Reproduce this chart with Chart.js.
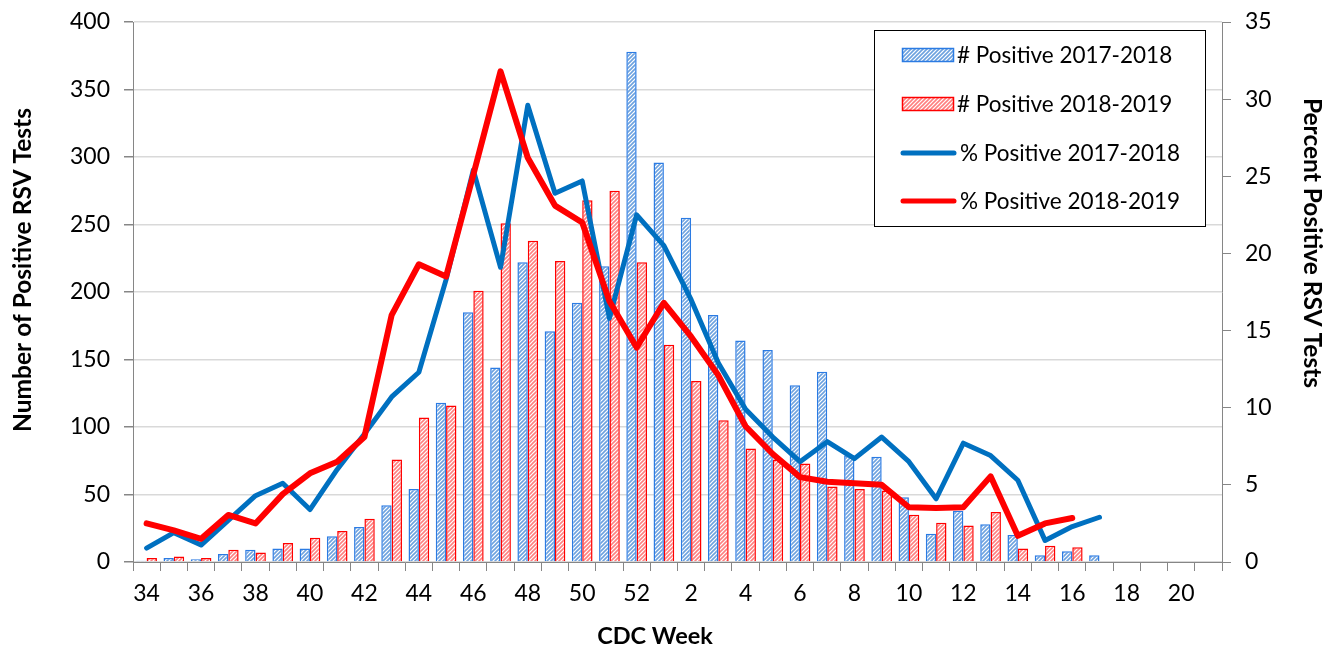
<!DOCTYPE html>
<html>
<head>
<meta charset="utf-8">
<script src="https://cdn.jsdelivr.net/npm/chart.js@4.4.1/dist/chart.umd.min.js"></script>
<style>
  html, body { margin: 0; padding: 0; background: #ffffff; }
  #wrap { width: 1338px; height: 648px; }
</style>
</head>
<body>
<div id="wrap"><canvas id="c" width="1338" height="648"></canvas></div>
<script>
// ---- data ----
const weeks = [34,35,36,37,38,39,40,41,42,43,44,45,46,47,48,49,50,51,52,
               1,2,3,4,5,6,7,8,9,10,11,12,13,14,15,16,17,18,19,20,21];
const tickLabels = ['34','','36','','38','','40','','42','','44','','46','','48','','50','','52',
                    '','2','','4','','6','','8','','10','','12','','14','','16','','18','','20',''];
const posCount1718 = [1,3,2,6,9,10,10,19,26,42,54,118,185,144,222,171,192,219,378,
                      296,255,183,164,157,131,141,79,78,48,21,38,28,20,5,8,5,null,null,null,null];
const posCount1819 = [3,4,3,9,7,14,18,23,32,76,107,116,201,251,238,223,268,275,222,
                      161,134,105,84,76,73,56,54,53,35,29,27,37,10,12,11,null,null,null,null,null];
const pctPos1718 = [0.9,1.9,1.1,2.7,4.3,5.1,3.4,6.0,8.3,10.7,12.3,18.3,25.4,19.1,29.6,23.9,24.7,15.8,22.5,
                    20.5,17.0,12.9,9.9,8.1,6.5,7.8,6.7,8.1,6.5,4.1,7.7,6.9,5.3,1.4,2.3,2.9,null,null,null,null];
const pctPos1819 = [2.5,2.05,1.5,3.05,2.5,4.4,5.75,6.5,8.1,16.0,19.3,18.5,25.1,31.8,26.2,23.1,22.0,16.9,13.9,
                    16.8,14.6,12.1,8.8,7.0,5.5,5.2,5.1,5.0,3.55,3.5,3.55,5.55,1.7,2.5,2.85,null,null,null,null,null];
const seriesNames = ['# Positive 2017-2018','# Positive 2018-2019','% Positive 2017-2018','% Positive 2018-2019'];

// ---- styles ----
const FONT = 'Lato, "Open Sans", "Liberation Sans", sans-serif';
const AXIS_GRAY = '#868686';
const canvas = document.getElementById('c');
const ctx = canvas.getContext('2d');

function hatch(bg, fg, lw) {
  const t = document.createElement('canvas');
  t.width = 4; t.height = 4;
  const x = t.getContext('2d');
  x.fillStyle = bg; x.fillRect(0, 0, 4, 4);
  x.strokeStyle = fg; x.lineWidth = lw; x.lineCap = 'square';
  x.beginPath();
  x.moveTo(0, 4); x.lineTo(4, 0);
  x.moveTo(-1, 1); x.lineTo(1, -1);
  x.moveTo(3, 5); x.lineTo(5, 3);
  x.stroke();
  return ctx.createPattern(t, 'repeat');
}
const bluePattern = hatch('#ffffff', '#6da2df', 1.6);
const redPattern = hatch('#ffffff', '#ff8080', 1.6);

const blueBorder = '#2b7be3';
const redBorder = '#ff0000';
const blueLine = '#0070c0';
const redLine = '#ff0000';

// ---- custom plugin: axis titles + legend box ----
const decor = {
  id: 'decor',
  afterDraw(chart) {
    const c = chart.ctx;
    c.save();
    c.fillStyle = '#000';
    c.textAlign = 'center';
    c.textBaseline = 'middle';
    c.font = 'bold 24.5px ' + FONT;
    // left title
    c.save(); c.translate(23, 270); c.rotate(-Math.PI / 2);
    c.fillText('Number of Positive RSV Tests', 0, 0); c.restore();
    // right title
    c.save(); c.translate(1312, 243); c.rotate(Math.PI / 2);
    c.fillText('Percent Positive RSV Tests', 0, 0); c.restore();
    // x title
    c.font = 'bold 23.5px ' + FONT;
    c.fillText('CDC Week', 655, 636);

    // legend
    const bx = 874.5, by = 30.5, bw = 331, bh = 196;
    c.fillStyle = '#ffffff';
    c.fillRect(bx, by, bw, bh);
    c.strokeStyle = '#000'; c.lineWidth = 1;
    c.strokeRect(bx, by, bw, bh);
    const rows = [55, 104, 153, 201];
    const ds = chart.data.datasets;
    c.textAlign = 'left';
    c.font = '22.5px ' + FONT;
    for (let i = 0; i < 4; i++) {
      const y = rows[i];
      if (i < 2) {
        c.fillStyle = ds[i].backgroundColor;
        c.fillRect(902, y - 7, 52, 14);
        c.strokeStyle = ds[i].borderColor; c.lineWidth = 1.5;
        c.strokeRect(902.5, y - 6.5, 51, 13);
      } else {
        c.strokeStyle = ds[i].borderColor; c.lineWidth = 5; c.lineCap = 'round';
        c.beginPath(); c.moveTo(903, y); c.lineTo(954, y); c.stroke();
      }
      c.fillStyle = '#000';
      c.fillText(seriesNames[i], i < 2 ? 957 : 960, y + 1);
    }
    c.restore();
  }
};

const tickFont = { family: FONT, size: 23 };
function noPad(s) { s.paddingTop = 0; s.paddingBottom = 0; }

new Chart(canvas, {
  type: 'bar',
  data: {
    labels: weeks,
    datasets: [
      { type: 'bar', label: seriesNames[0], data: posCount1718, yAxisID: 'y',
        backgroundColor: bluePattern, borderColor: blueBorder, borderWidth: 1.5, order: 2,
        categoryPercentage: 0.76, barPercentage: 1.0 },
      { type: 'bar', label: seriesNames[1], data: posCount1819, yAxisID: 'y',
        backgroundColor: redPattern, borderColor: redBorder, borderWidth: 1.5, order: 2,
        categoryPercentage: 0.76, barPercentage: 1.0 },
      { type: 'line', label: seriesNames[2], data: pctPos1718, yAxisID: 'y1',
        borderColor: blueLine, backgroundColor: blueLine, borderWidth: 5, pointRadius: 0,
        tension: 0, borderJoinStyle: 'round', borderCapStyle: 'round', order: 1, spanGaps: false },
      { type: 'line', label: seriesNames[3], data: pctPos1819, yAxisID: 'y1',
        borderColor: redLine, backgroundColor: redLine, borderWidth: 6, pointRadius: 0,
        tension: 0, borderJoinStyle: 'round', borderCapStyle: 'round', order: 0, spanGaps: false }
    ]
  },
  options: {
    responsive: false,
    animation: false,
    devicePixelRatio: 1,
    layout: { padding: { top: 22, left: 0, right: 0, bottom: 0 } },
    plugins: { legend: { display: false }, tooltip: { enabled: false } },
    scales: {
      x: {
        offset: true,
        grid: { display: true, drawOnChartArea: false, drawTicks: true, tickLength: 9,
                tickColor: AXIS_GRAY, offset: true },
        border: { color: AXIS_GRAY, width: 1 },
        ticks: { autoSkip: false, maxRotation: 0, minRotation: 0, padding: 9, color: '#000',
                 font: tickFont, callback: (v, i) => tickLabels[i] },
        afterFit: s => { s.height = 86; s.paddingLeft = 0; s.paddingRight = 0; }
      },
      y: {
        position: 'left', min: 0, max: 400,
        ticks: { stepSize: 50, padding: 14, color: '#000', font: tickFont },
        grid: { color: '#d9d9d9', lineWidth: 1.5, tickColor: AXIS_GRAY, tickLength: 9 },
        border: { color: AXIS_GRAY, width: 1 },
        afterFit: s => { s.width = 133; noPad(s); }
      },
      y1: {
        position: 'right', min: 0, max: 35,
        ticks: { stepSize: 5, padding: 14, color: '#000', font: tickFont },
        grid: { drawOnChartArea: false, tickColor: AXIS_GRAY, tickLength: 9 },
        border: { color: AXIS_GRAY, width: 1 },
        afterFit: s => { s.width = 116; noPad(s); }
      }
    }
  },
  plugins: [decor]
});
</script>
</body>
</html>
